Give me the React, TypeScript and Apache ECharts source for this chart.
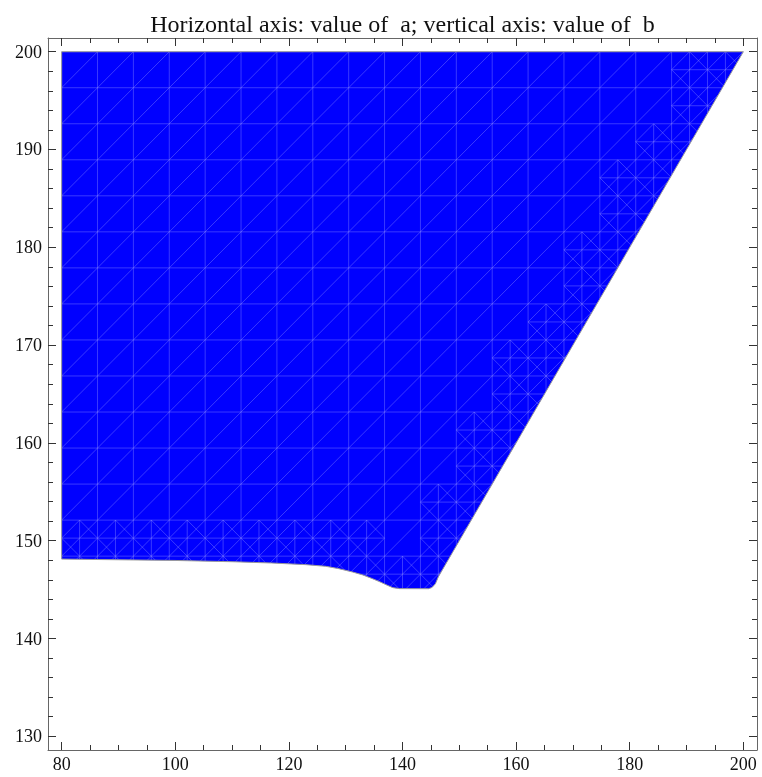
import React, { useEffect, useRef } from 'react';
import * as echarts from 'echarts';

const titleText = 'Horizontal axis: value of  a; vertical axis: value of  b';

const xMajorTicks = [80, 100, 120, 140, 160, 180, 200];
const xMinorTicks = [80, 85, 90, 95, 100, 105, 110, 115, 120, 125, 130, 135, 140, 145, 150, 155, 160, 165, 170, 175, 180, 185, 190, 195, 200];
const yMajorTicks = [130, 140, 150, 160, 170, 180, 190, 200];
const yMinorTicks = [130, 132, 134, 136, 138, 140, 142, 144, 146, 148, 150, 152, 154, 156, 158, 160, 162, 164, 166, 168, 170, 172, 174, 176, 178, 180, 182, 184, 186, 188, 190, 192, 194, 196, 198, 200];

const xRange = [77.6, 202.4];
const yRange = [128.6, 201.4];

// boundary of the region (a, b), clockwise starting at the top-left corner
const regionA = [80, 200, 146.3, 145.8, 145.2, 144.6, 139.5, 138.3, 137.3, 136.0, 134.7, 133.0, 131.2, 128.8, 126.5, 123.0, 117.0, 110.0, 100.0, 90.0, 80.0];
const regionB = [200, 200, 146.3, 145.6, 145.22, 145.09, 145.1, 145.2, 145.45, 145.8, 146.12, 146.5, 146.8, 147.14, 147.38, 147.55, 147.72, 147.85, 147.98, 148.05, 148.12];

// sampling mesh of the plot
const meshA = [80, 200];
const meshB = [130, 200];
const meshCells = 19;

const FONT = '"Liberation Serif", "Times New Roman", serif';

function insideRegion(a: number, b: number): boolean {
  let inside = false;
  const n = regionA.length;
  for (let i = 0, j = n - 1; i < n; j = i++) {
    const xi = regionA[i], yi = regionB[i], xj = regionA[j], yj = regionB[j];
    if ((yi > b) !== (yj > b) && a < ((xj - xi) * (b - yi)) / (yj - yi) + xi) inside = !inside;
  }
  return inside;
}

export default function App() {
  const ref = useRef<HTMLDivElement>(null);
  useEffect(() => {
    if (!ref.current) return;
    const chart = echarts.init(ref.current, undefined, { renderer: 'svg' });
    const cA = (meshA[1] - meshA[0]) / meshCells;
    const cB = (meshB[1] - meshB[0]) / meshCells;

    const renderItem = (params: any, api: any) => {
      const pts = regionA.map((a, i) => api.coord([a, regionB[i]]));
      const segs: number[][][] = [];
      const seg = (a1: number, b1: number, a2: number, b2: number) => {
        segs.push([api.coord([a1, b1]), api.coord([a2, b2])]);
      };
      for (let i = 0; i <= meshCells; i++) {
        const a = meshA[0] + i * cA;
        seg(a, meshB[0], a, meshB[1]);
        const b = meshB[0] + i * cB;
        seg(meshA[0], b, meshA[1], b);
      }
      for (let k = -meshCells; k <= meshCells; k++) {
        seg(meshA[0] + k * cA, meshB[0], meshA[0] + (k + meshCells) * cA, meshB[1]);
      }
      // refinement near the boundary
      const eps = 1e-6;
      for (let i = 0; i < meshCells; i++) {
        for (let j = 0; j < meshCells; j++) {
          const a0 = meshA[0] + i * cA;
          const b0 = meshB[0] + j * cB;
          let ins = 0, outs = 0;
          for (let p = -0.5; p <= 1.5; p += 0.5) {
            for (let q = -0.5; q <= 1.5; q += 0.5) {
              const sa = a0 + p * cA, sb = b0 + q * cB;
              if (sa < meshA[0] + eps || sa > meshA[1] - eps || sb < meshB[0] + eps || sb > meshB[1] - eps) continue;
              if (insideRegion(sa, sb)) ins++; else outs++;
            }
          }
          if (ins > 0 && outs > 0) {
            const ha = cA / 2, hb = cB / 2;
            seg(a0 + ha, b0, a0 + ha, b0 + cB);
            seg(a0, b0 + hb, a0 + cA, b0 + hb);
            seg(a0, b0 + hb, a0 + ha, b0);
            seg(a0 + ha, b0, a0 + cA, b0 + hb);
            seg(a0 + cA, b0 + hb, a0 + ha, b0 + cB);
            seg(a0 + ha, b0 + cB, a0, b0 + hb);
          }
        }
      }
      const lineEls = segs.map((s) => ({
        type: 'line',
        shape: { x1: s[0][0], y1: s[0][1], x2: s[1][0], y2: s[1][1] },
        style: { stroke: 'rgba(150,150,255,0.38)', lineWidth: 1 },
        silent: true,
      }));
      return {
        type: 'group',
        children: [
          { type: 'polygon', shape: { points: pts }, style: { fill: '#0000ff' }, silent: true },
          { type: 'group', clipPath: { type: 'polygon', shape: { points: pts } }, children: lineEls },
          {
            type: 'polygon',
            shape: { points: pts },
            style: { fill: 'none', stroke: '#9a9a9a', lineWidth: 1 },
            silent: true,
          },
        ],
      };
    };

    const baseX = {
      type: 'value',
      min: xRange[0],
      max: xRange[1],
      splitLine: { show: false },
    };
    const baseY = {
      type: 'value',
      min: yRange[0],
      max: yRange[1],
      splitLine: { show: false },
    };
    const frameLine = { show: true, onZero: false, lineStyle: { color: '#666', width: 1 } };
    const tickStyle = { color: '#333', width: 1 };

    chart.setOption({
      animation: false,
      grid: { left: 48, right: 5, top: 38, bottom: 27 },
      graphic: [
        {
          type: 'text',
          x: 402.5,
          y: 24,
          style: {
            text: titleText,
            fontSize: 24,
            fontFamily: FONT,
            fill: '#111',
            align: 'center',
            verticalAlign: 'middle',
          },
        },
      ],
      xAxis: [
        {
          ...baseX,
          position: 'bottom',
          axisLine: frameLine,
          axisTick: { show: true, inside: true, length: 8, customValues: xMajorTicks, lineStyle: tickStyle },
          axisLabel: { show: true, customValues: xMajorTicks, fontFamily: FONT, fontSize: 18, color: '#111', margin: 5 },
        },
        {
          ...baseX,
          position: 'bottom',
          axisLine: { show: false, onZero: false },
          axisTick: { show: true, inside: true, length: 5, customValues: xMinorTicks, lineStyle: tickStyle },
          axisLabel: { show: false },
        },
        {
          ...baseX,
          position: 'top',
          axisLine: frameLine,
          axisTick: { show: true, inside: true, length: 8, customValues: xMajorTicks, lineStyle: tickStyle },
          axisLabel: { show: false },
        },
        {
          ...baseX,
          position: 'top',
          axisLine: { show: false, onZero: false },
          axisTick: { show: true, inside: true, length: 5, customValues: xMinorTicks, lineStyle: tickStyle },
          axisLabel: { show: false },
        },
      ],
      yAxis: [
        {
          ...baseY,
          position: 'left',
          axisLine: frameLine,
          axisTick: { show: true, inside: true, length: 8, customValues: yMajorTicks, lineStyle: tickStyle },
          axisLabel: { show: true, customValues: yMajorTicks, fontFamily: FONT, fontSize: 18, color: '#111', margin: 6 },
        },
        {
          ...baseY,
          position: 'left',
          axisLine: { show: false, onZero: false },
          axisTick: { show: true, inside: true, length: 5, customValues: yMinorTicks, lineStyle: tickStyle },
          axisLabel: { show: false },
        },
        {
          ...baseY,
          position: 'right',
          axisLine: frameLine,
          axisTick: { show: true, inside: true, length: 8, customValues: yMajorTicks, lineStyle: tickStyle },
          axisLabel: { show: false },
        },
        {
          ...baseY,
          position: 'right',
          axisLine: { show: false, onZero: false },
          axisTick: { show: true, inside: true, length: 5, customValues: yMinorTicks, lineStyle: tickStyle },
          axisLabel: { show: false },
        },
      ],
      series: [
        {
          type: 'custom',
          xAxisIndex: 0,
          yAxisIndex: 0,
          renderItem,
          data: [[0]],
          silent: true,
        },
      ],
    });
    return () => chart.dispose();
  }, []);
  return <div ref={ref} style={{ position: 'fixed', left: 0, top: 0, width: 762, height: 777 }} />;
}
